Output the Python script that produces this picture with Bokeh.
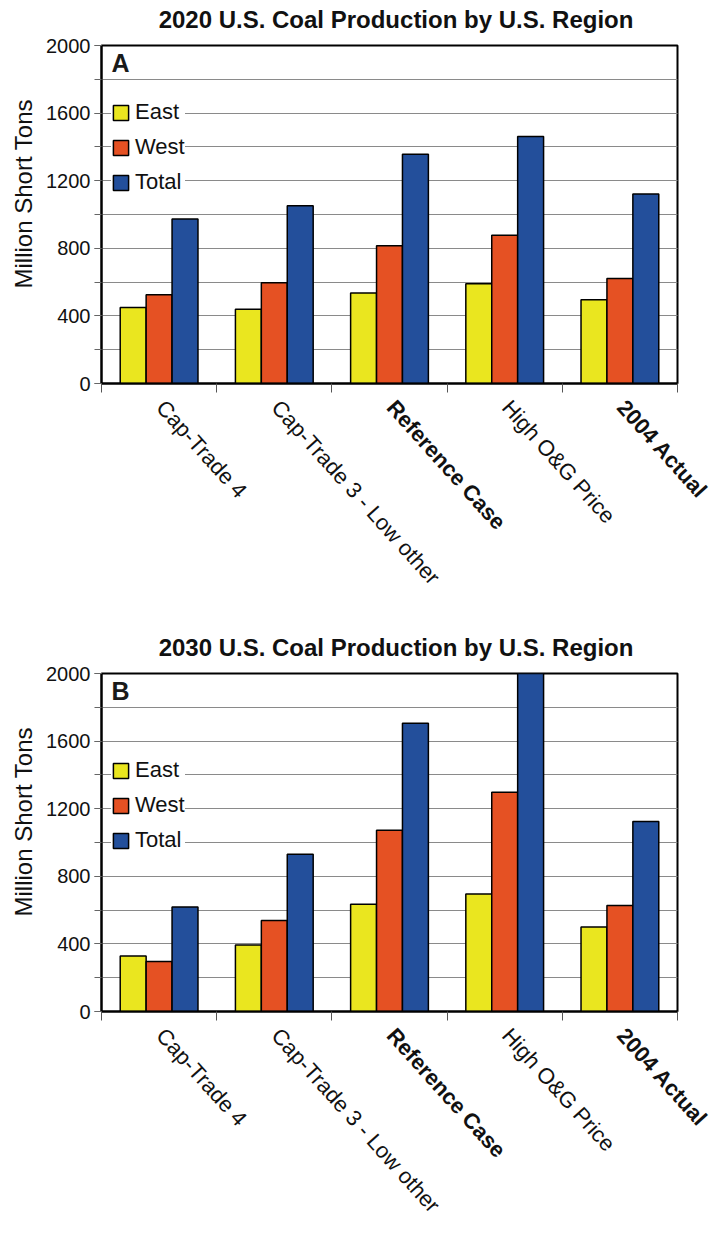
import math
import numpy as np
from bokeh.plotting import figure
from bokeh.models import (ColumnDataSource, Range1d, FixedTicker, SingleIntervalTicker,
                          Label, Legend, LegendItem, Title)
from bokeh.core.properties import value
from bokeh.transform import dodge
from bokeh.embed import file_html
from bokeh.resources import INLINE

# ---------------- data ----------------
categories = ["Cap-Trade 4", "Cap-Trade 3 - Low other", "Reference Case",
              "High O&G Price", "2004 Actual"]
bold_flags = [False, False, True, False, True]
series_names = ["East", "West", "Total"]

east_2020 = [450, 440, 535, 590, 495]
west_2020 = [525, 596, 815, 877, 622]
total_2020 = [973, 1052, 1356, 1461, 1121]

east_2030 = [329, 394, 634, 696, 500]
west_2030 = [296, 538, 1072, 1297, 627]
total_2030 = [619, 930, 1706, 2000, 1125]

title_2020 = "2020 U.S. Coal Production by U.S. Region"
title_2030 = "2030 U.S. Coal Production by U.S. Region"
y_label = "Million Short Tons"

# ---------------- style / layout ----------------
FONT = "Liberation Sans"
COLORS = ["#EAE61F", "#E55123", "#234F9B"]
GRID = "#8a8a8a"
TXT = "#111111"
BAR_W = 0.225
W = 718
FRAME_LEFT = 101
FRAME_RIGHT_BORDER = 41
FRAME_W = W - FRAME_LEFT - FRAME_RIGHT_BORDER
FRAME_H = 338
TOP_B = 12
BOT_B = 12
TICK_LEN = 9
LABEL_DROP = 20          # px below the axis line where each rotated label starts
N = len(categories)
PX_PER_CAT = FRAME_W / N
LABEL_ANGLE = -48 * math.pi / 180
TITLE_H = 33
CHART_H = TOP_B + FRAME_H + BOT_B


def bare_fig(height, x_range, y_range):
    f = figure(width=W, height=height, x_range=x_range, y_range=y_range,
               output_backend="svg", toolbar_location=None,
               x_axis_location=None, y_axis_location=None,
               min_border=0, min_border_left=0, min_border_right=0,
               min_border_top=0, min_border_bottom=0)
    f.outline_line_color = None
    f.grid.visible = False
    return f


def title_fig(text, height=TITLE_H):
    f = bare_fig(height, Range1d(0, W), Range1d(-height, 0))
    f.text(x=[395.5], y=[-18.5], text=[text], text_align="center", text_baseline="middle",
           text_font=value(FONT), text_font_style="bold", text_font_size="24px",
           text_color=TXT)
    return f


def label_fig(height):
    x0 = -FRAME_LEFT / PX_PER_CAT
    x1 = (W - FRAME_LEFT) / PX_PER_CAT
    f = bare_fig(height, Range1d(x0, x1), Range1d(-height, 0))
    for flag, style in [(False, "normal"), (True, "bold")]:
        idx = [i for i, b in enumerate(bold_flags) if b == flag]
        src = ColumnDataSource(dict(x=[i + 0.5 for i in idx],
                                    y=[-(LABEL_DROP - BOT_B)] * len(idx),
                                    label=[categories[i] for i in idx]))
        f.text(x="x", y="y", text="label", source=src, angle=LABEL_ANGLE,
               text_align="left", text_baseline="middle", x_offset=1.5,
               text_font=value(FONT), text_font_size="22px", text_font_style=style,
               text_color=TXT)
    return f


def chart_fig(letter, east, west, total, legend_y):
    p = figure(width=W, height=CHART_H,
               x_range=Range1d(0, N), y_range=Range1d(0, 2000),
               output_backend="svg", toolbar_location=None,
               min_border_left=FRAME_LEFT, min_border_right=FRAME_RIGHT_BORDER,
               min_border_top=TOP_B, min_border_bottom=BOT_B)

    src = ColumnDataSource(dict(x=np.arange(N) + 0.5, east=east, west=west, total=total))
    rs = []
    for key, off, col in zip(["east", "west", "total"], [-BAR_W, 0.0, BAR_W], COLORS):
        r = p.vbar(x=dodge("x", off), top=key, bottom=0, width=BAR_W, source=src,
                   fill_color=col, line_color="black", line_width=1.5)
        rs.append(r)

    p.xgrid.grid_line_color = None
    p.ygrid.grid_line_color = GRID
    p.ygrid.minor_grid_line_color = GRID
    p.ygrid.grid_line_width = 1
    p.ygrid.minor_grid_line_width = 1

    ya = p.yaxis[0]
    ya.ticker = SingleIntervalTicker(interval=400, num_minor_ticks=2)
    ya.major_tick_out = 7
    ya.major_tick_in = 0
    ya.minor_tick_out = 7
    ya.minor_tick_in = 0
    ya.major_tick_line_color = "#666666"
    ya.minor_tick_line_color = "#666666"
    ya.major_label_standoff = 4
    ya.major_label_text_font = FONT
    ya.major_label_text_font_size = "20px"
    ya.major_label_text_color = TXT
    ya.axis_line_color = "black"
    ya.axis_line_width = 2

    # y-axis title as a side-panel Title, so that it can sit off-centre like the reference
    ytitle = Title(text=y_label, align="left", offset=95, standoff=12,
                   vertical_align="middle", text_font=FONT, text_font_size="24px",
                   text_font_style="normal", text_color=TXT)
    p.add_layout(ytitle, "left")

    xa = p.xaxis[0]
    xa.ticker = FixedTicker(ticks=list(range(N + 1)))
    xa.major_label_overrides = {i: "" for i in range(N + 1)}
    xa.major_label_text_font_size = "0px"
    xa.major_label_standoff = 0
    xa.major_tick_out = TICK_LEN
    xa.major_tick_in = 0
    xa.major_tick_line_color = "#555555"
    xa.axis_line_color = "black"
    xa.axis_line_width = 2

    p.outline_line_color = "black"
    p.outline_line_width = 2

    p.add_layout(Label(x=10, y=FRAME_H - 3.3, x_units="screen", y_units="screen", text=letter,
                       text_font=FONT, text_font_style="bold", text_font_size="25px",
                       text_baseline="top", text_color="#1a1a1a"))

    legend = Legend(items=[LegendItem(label=nm, renderers=[r]) for nm, r in zip(series_names, rs)],
                    location=(10, legend_y), label_text_font=FONT, label_text_font_size="22px",
                    label_text_color=TXT,
                    glyph_width=19, glyph_height=19, label_height=25, spacing=9,
                    padding=8, label_standoff=5, margin=0,
                    border_line_color=None, background_fill_color="white",
                    background_fill_alpha=1.0)
    p.add_layout(legend)
    return p


LABELS_A_H = 628 - TITLE_H - CHART_H
LABELS_B_H = 1233 - 628 - TITLE_H - CHART_H

tA = title_fig(title_2020)
pA = chart_fig("A", east_2020, west_2020, total_2020, legend_y=188)
lA = label_fig(LABELS_A_H)
tB = title_fig(title_2030)
pB = chart_fig("B", east_2030, west_2030, total_2030, legend_y=158)
lB = label_fig(LABELS_B_H)

# separate roots, stacked by the page flow (no cross-plot frame alignment)
roots = [tA, pA, lA, tB, pB, lB]
open("out.html", "w").write(file_html(roots, INLINE))
